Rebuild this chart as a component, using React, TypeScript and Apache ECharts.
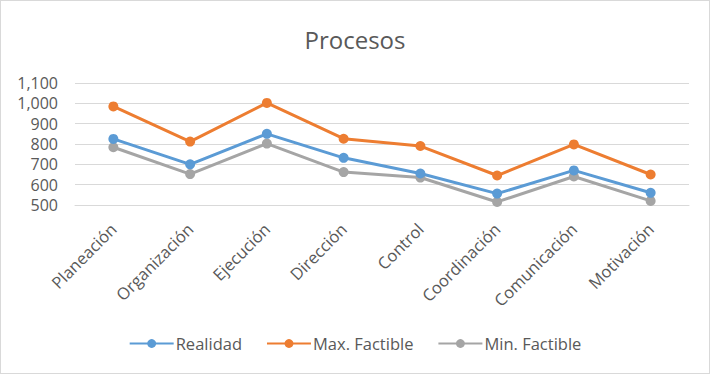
import React, { useEffect, useRef } from "react";
import * as echarts from "echarts";

const categories = ["Planeación", "Organización", "Ejecución", "Dirección", "Control", "Coordinación", "Comunicación", "Motivación"];
const realidad = [825, 700, 850, 732, 655, 556, 670, 560];
const maxFactible = [985, 812, 1002, 826, 790, 645, 798, 650];
const minFactible = [784, 652, 802, 662, 635, 515, 640, 520];
const seriesNames = ["Realidad", "Max. Factible", "Min. Factible"];
const colors = ["#5B9BD5", "#ED7D31", "#A5A5A5"];

const FONT = "Open Sans";

export default function App() {
  const ref = useRef<HTMLDivElement>(null);
  useEffect(() => {
    if (!ref.current) return;
    const chart = echarts.init(ref.current, undefined, { renderer: "svg" });
    const data = [realidad, maxFactible, minFactible];
    chart.setOption({
      animation: false,
      backgroundColor: "#ffffff",
      title: {
        text: "Procesos",
        left: "center",
        top: 21,
        textStyle: { fontFamily: FONT, fontSize: 24, fontWeight: "normal", color: "#595959" },
      },
      legend: {
        bottom: 16,
        left: "center",
        itemWidth: 44,
        itemHeight: 11,
        itemGap: 24,
        textStyle: { fontFamily: FONT, fontSize: 16.5, color: "#595959", padding: [0, 0, 0, -3] },
        data: seriesNames,
      },
      grid: { left: 74, right: 20, top: 82, bottom: 168 },
      xAxis: {
        type: "category",
        data: categories,
        boundaryGap: true,
        axisLine: { show: true, lineStyle: { color: "#d9d9d9" } },
        axisTick: { show: false },
        axisLabel: {
          rotate: 45,
          interval: 0,
          margin: 21,
          fontFamily: FONT,
          fontSize: 16.5,
          color: "#595959",
        },
      },
      yAxis: {
        type: "value",
        min: 500,
        max: 1100,
        interval: 100,
        axisLine: { show: false },
        axisTick: { show: false },
        splitLine: { lineStyle: { color: "#d9d9d9", width: 1 } },
        axisLabel: {
          fontFamily: FONT,
          fontSize: 16,
          color: "#595959",
          margin: 17,
          formatter: (v: number) => v.toLocaleString("en-US"),
        },
      },
      series: seriesNames.map((name, i) => ({
        name,
        type: "line",
        data: data[i],
        symbol: "circle",
        symbolSize: 10,
        lineStyle: { width: 3, color: colors[i] },
        itemStyle: { color: colors[i] },
        emphasis: { disabled: true },
        z: 3 - i,
      })),
    });
    return () => chart.dispose();
  }, []);
  return (
    <div
      style={{
        position: "fixed",
        left: 0,
        top: 0,
        width: 710,
        height: 374,
        boxSizing: "border-box",
        border: "1px solid #d9d9d9",
        background: "#fff",
      }}
    >
      <div ref={ref} style={{ width: 708, height: 372 }} />
    </div>
  );
}
